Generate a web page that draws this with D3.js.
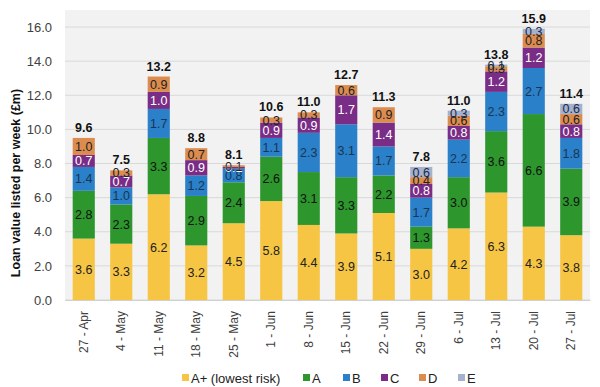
<!DOCTYPE html>
<html><head><meta charset="utf-8">
<script src="https://cdn.jsdelivr.net/npm/d3@7"></script>
<style>body{margin:0;background:#fff}svg{display:block;font-family:"Liberation Sans",Arial,sans-serif}</style>
</head><body><svg id="c" width="600" height="387"></svg>
<script>
const weeks = ["27 - Apr","4 - May","11 - May","18 - May","25 - May","1 - Jun","8 - Jun","15 - Jun","22 - Jun","29 - Jun","6 - Jul","13 - Jul","20 - Jul","27 - Jul"];
const seriesNames = ["A+ (lowest risk)","A","B","C","D","E"];
const seriesKeys = ["Aplus","A","B","C","D","E"];
const Aplus = [3.6,3.3,6.2,3.2,4.5,5.8,4.4,3.9,5.1,3.0,4.2,6.3,4.3,3.8];
const A     = [2.8,2.3,3.3,2.9,2.4,2.6,3.1,3.3,2.2,1.3,3.0,3.6,6.6,3.9];
const B     = [1.4,1.0,1.7,1.2,0.8,1.1,2.3,3.1,1.7,1.7,2.2,2.3,2.7,1.8];
const C     = [0.7,0.7,1.0,0.9,0.1,0.9,0.9,1.7,1.4,0.8,0.8,1.2,1.2,0.8];
const D     = [1.0,0.3,0.9,0.7,0.1,0.3,0.3,0.6,0.9,0.4,0.6,0.3,0.8,0.6];
const E     = [0,0,0,0,0,0,0,0,0,0.6,0.3,0.1,0.3,0.6];
const totals = [9.6,7.5,13.2,8.8,8.1,10.6,11.0,12.7,11.3,7.8,11.0,13.8,15.9,11.4];
const yTicks = [0,2,4,6,8,10,12,14,16];
const colors = ["#f6c544","#2d962d","#2a80c9","#7a2d86","#dc8c4e","#a4b1cf"];
const labelColors = ["#222","#111","#1b3550","#fff","#222","#1b2a45"];

const svg = d3.select("#c");
const m = {l:65, r:10, t:10, b:87};
const W = 600, H = 387;
const x = d3.scaleBand().domain(weeks).range([m.l, W-m.r]).paddingInner(0.41).paddingOuter(0.205);
const y = d3.scaleLinear().domain([0,17]).range([H-m.b, m.t]);

const rows = weeks.map((w,i)=>({week:w, Aplus:Aplus[i], A:A[i], B:B[i], C:C[i], D:D[i], E:E[i]}));
const stack = d3.stack().keys(seriesKeys)(rows);

svg.append("rect").attr("x",m.l).attr("y",m.t).attr("width",W-m.r-m.l).attr("height",H-m.b-m.t).attr("fill","#f2f2f2");

svg.append("g").selectAll("line").data(yTicks).join("line")
  .attr("x1",m.l).attr("x2",W-m.r).attr("y1",d=>y(d)).attr("y2",d=>y(d))
  .attr("stroke","#d9d9d9").attr("stroke-width",1);

const yAxis = svg.append("g").attr("transform",`translate(${m.l},0)`)
  .call(d3.axisLeft(y).tickValues(yTicks).tickFormat(d3.format(".1f")).tickSize(0).tickPadding(13));
yAxis.select(".domain").remove();
yAxis.selectAll("text").attr("font-size",13).attr("fill","#404040").style("font-family","Liberation Sans, Arial, sans-serif");

const groups = svg.append("g").selectAll("g").data(stack).join("g").attr("fill",(d,i)=>colors[i]);
groups.selectAll("rect").data(d=>d).join("rect")
  .attr("x",d=>x(d.data.week)).attr("width",x.bandwidth())
  .attr("y",d=>y(d[1])).attr("height",d=>y(d[0])-y(d[1]));

stack.forEach((s,si)=>{
  svg.append("g").selectAll("text").data(s.filter(d=>d[1]-d[0]>0)).join("text")
    .attr("x",d=>x(d.data.week)+x.bandwidth()/2)
    .attr("y",d=>(y(d[0])+y(d[1]))/2)
    .attr("dy","0.36em").attr("text-anchor","middle")
    .attr("font-size",12.5).attr("fill",labelColors[si])
    .text(d=>d3.format(".1f")(d[1]-d[0]));
});

svg.append("g").selectAll("text").data(weeks).join("text")
  .attr("x",d=>x(d)+x.bandwidth()/2).attr("y",(d,i)=>y(stack[5][i][1])-6)
  .attr("text-anchor","middle").attr("font-size",12.5).attr("font-weight","bold").attr("fill","#111")
  .text((d,i)=>d3.format(".1f")(totals[i]));

const xAxis = svg.append("g").attr("transform",`translate(0,${H-m.b})`)
  .call(d3.axisBottom(x).tickSize(0).tickPadding(0));
xAxis.select(".domain").attr("stroke","#d0d0d0");
xAxis.selectAll("text").attr("font-size",12).attr("fill","#404040")
  .attr("transform","rotate(-90)").attr("text-anchor","end").attr("dx","-11").attr("dy","0.35em").attr("x",0).attr("y",0)
  .style("font-family","Liberation Sans, Arial, sans-serif");

svg.append("text").attr("transform",`translate(20,${(m.t+H-m.b)/2+28}) rotate(-90)`)
  .attr("text-anchor","middle").attr("font-size",12.5).attr("font-weight","bold").attr("fill","#111")
  .text("Loan value listed per week (£m)");

const legX = [182,303,343,381,419,458];
const leg = svg.append("g").selectAll("g").data(seriesNames).join("g")
  .attr("transform",(d,i)=>`translate(${legX[i]},378)`);
leg.append("rect").attr("x",0).attr("y",-4).attr("width",7).attr("height",7).attr("fill",(d,i)=>colors[i]);
leg.append("text").attr("x",9).attr("y",0).attr("dy","0.36em").attr("font-size",13).attr("fill","#222").text(d=>d);
</script></body></html>
